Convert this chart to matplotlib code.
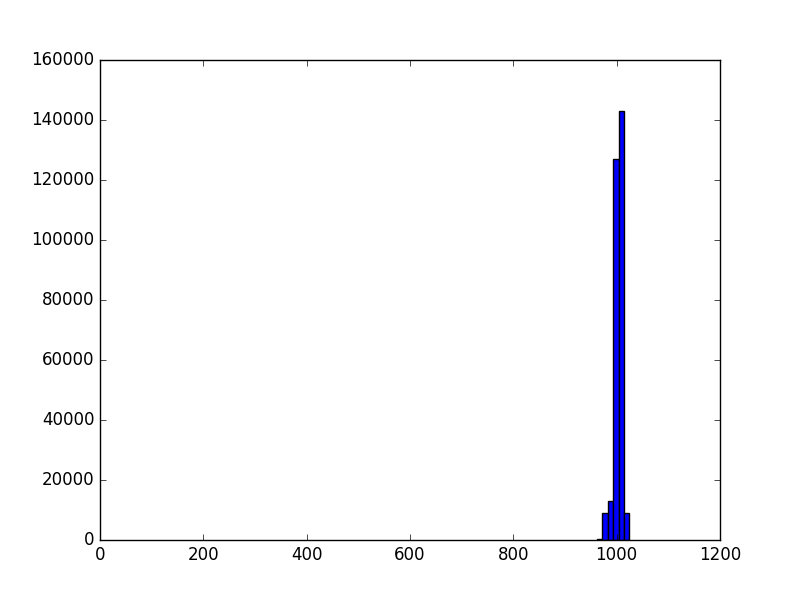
import matplotlib
matplotlib.use('Agg')
import matplotlib.pyplot as plt
import numpy as np

# histograma de intensidades
bordes = [962, 972.4, 982.8, 993.2, 1003.6, 1014.0, 1024.4]
cuentas = [300, 8900, 13100, 127000, 143000, 8900]

plt.style.use('classic')
plt.figure(1, figsize=(8, 6), dpi=100)
izq = np.array(bordes[:-1])
anchos = np.diff(bordes)
plt.bar(izq, cuentas, width=anchos, align='edge', color='b', edgecolor='k')
plt.xlim(0, 1200)
plt.ylim(0, 160000)

plt.savefig("out.png", dpi=100)
